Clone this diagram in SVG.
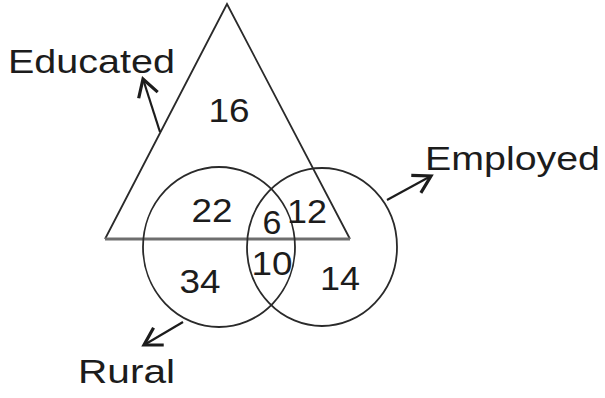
<svg xmlns="http://www.w3.org/2000/svg" width="605" height="398" viewBox="0 0 605 398">
<style>
.shape{fill:none;stroke:#2a2a2a;stroke-width:1.8}
.base{fill:none;stroke:#6e6e6e;stroke-width:3}
.num{font-family:"Liberation Sans",Arial,sans-serif;font-size:34px;fill:#1c1c1c;text-anchor:middle}
.lbl{font-family:"Liberation Sans",Arial,sans-serif;font-size:33px;fill:#1c1c1c}
.arrow{fill:none;stroke:#1c1c1c;stroke-width:2.2;marker-end:url(#head)}
</style>
<defs>
<marker id="head" markerUnits="userSpaceOnUse" markerWidth="26" markerHeight="26" refX="20" refY="12" orient="auto">
<path d="M3,2 L20,12 L3,22" fill="none" stroke="#1c1c1c" stroke-width="3.2" stroke-linejoin="miter"/>
</marker>
</defs>
<rect width="605" height="398" fill="#ffffff"/>
<g id="educated">
<path class="shape" d="M105,239 L227,4 L350,239"/>
<line class="base" x1="105" y1="239" x2="350" y2="239"/>
<text class="num" x="229" y="122" textLength="41" lengthAdjust="spacingAndGlyphs">16</text>
<text class="lbl" x="8" y="73" textLength="167" lengthAdjust="spacingAndGlyphs">Educated</text>
</g>
<g id="rural">
<ellipse class="shape" cx="219" cy="247" rx="76" ry="80"/>
<text class="num" x="212" y="222" textLength="41" lengthAdjust="spacingAndGlyphs">22</text>
<text class="num" x="200" y="293" textLength="41" lengthAdjust="spacingAndGlyphs">34</text>
<text class="lbl" x="78" y="383" textLength="97" lengthAdjust="spacingAndGlyphs">Rural</text>
</g>
<g id="employed">
<ellipse class="shape" cx="322" cy="247" rx="75" ry="79"/>
<text class="num" x="307" y="223" textLength="40" lengthAdjust="spacingAndGlyphs">12</text>
<text class="num" x="340" y="290" textLength="40" lengthAdjust="spacingAndGlyphs">14</text>
<text class="lbl" x="425" y="170" textLength="175" lengthAdjust="spacingAndGlyphs">Employed</text>
</g>
<g id="overlaps">
<text class="num" x="272" y="234">6</text>
<text class="num" x="272" y="275" textLength="41" lengthAdjust="spacingAndGlyphs">10</text>
</g>
<g id="connectors">
<line class="arrow" x1="160" y1="132" x2="143" y2="79"/>
<line class="arrow" x1="387" y1="200" x2="431" y2="176"/>
<line class="arrow" x1="183" y1="322" x2="144" y2="345"/>
</g>
</svg>
